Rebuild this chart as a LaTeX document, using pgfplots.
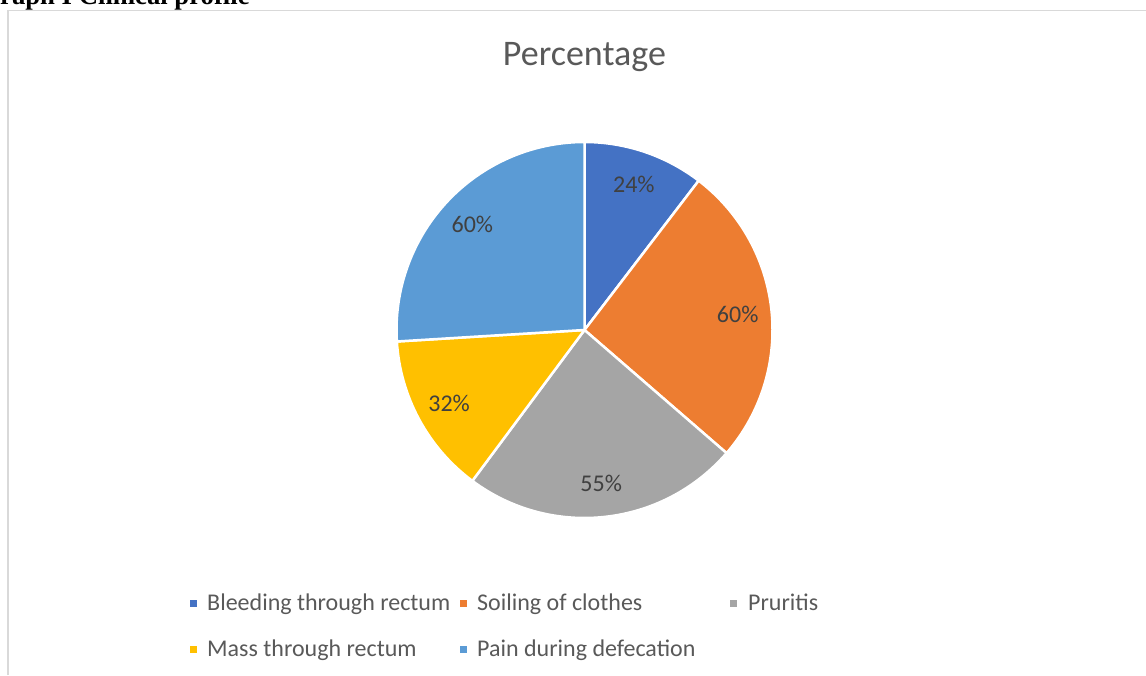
\documentclass[border=0pt]{standalone}
\usepackage{pgfplots}
\pgfplotsset{compat=1.18}
\usepackage{pgfplotstable}
\usepackage{fontspec}
\setmainfont{Carlito}
\newfontfamily\capfont{Liberation Serif}
\definecolor{c0}{HTML}{4472C4}
\definecolor{c1}{HTML}{ED7D31}
\definecolor{c2}{HTML}{A5A5A5}
\definecolor{c3}{HTML}{FFC000}
\definecolor{c4}{HTML}{5B9BD5}
\definecolor{labc}{HTML}{404040}
\definecolor{txtc}{HTML}{595959}
\definecolor{framec}{HTML}{D9D9D9}
\pgfplotstableread{
label value
Bleeding 24
Soiling 60
Pruritis 55
Mass 32
Pain 60
}\piedata
\tikzset{pielab/.style={text=labc,font=\fontsize{24}{28}\selectfont,inner sep=0pt},
 legtxt/.style={text=txtc,font=\fontsize{24}{28}\selectfont,inner sep=0pt,anchor=base west}}
\begin{document}
\begin{tikzpicture}
\begin{axis}[x=1pt,y=1pt,xmin=0,xmax=1146,ymin=0,ymax=675,hide axis,clip=false,
  scale only axis,at={(0,0)},anchor=south west]
\def\pieCum{0}
\pgfplotsforeachungrouped \i in {0,...,4}{%
  \pgfplotstablegetelem{\i}{value}\of\piedata
  \let\pieV\pgfplotsretval
  \pgfmathsetmacro\pieA{90-(360/231)*\pieCum}%
  \pgfmathsetmacro\pieB{90-(360/231)*(\pieCum+\pieV)}%
  \pgfmathsetmacro\pieM{(\pieA+\pieB)/2}%
  \edef\cmd{\noexpand\fill[c\i, draw=white, line width=2.5pt, line join=round]
    (axis cs:584.5,345) -- ++(\pieA:188pt) arc[start angle=\pieA, end angle=\pieB, radius=188pt] -- cycle;
    \noexpand\path (axis cs:584.5,345) ++(\pieM:154pt) node[pielab] {\pieV\noexpand\%};}%
  \cmd
  \pgfmathsetmacro\pieCum{\pieCum+\pieV}%
}
% title
\node[anchor=base,text=txtc,font=\fontsize{36}{40}\selectfont,inner sep=0pt] at (axis cs:584.4,609) {Percentage};
% legend
\fill[c0] (axis cs:190,68) rectangle (axis cs:197,75);
\node[legtxt] at (axis cs:207,64) {Bleeding through rectum};
\fill[c1] (axis cs:460,68) rectangle (axis cs:467,75);
\node[legtxt] at (axis cs:477,64) {Soiling of clothes};
\fill[c2] (axis cs:730,68) rectangle (axis cs:737,75);
\node[legtxt] at (axis cs:748,64) {Pruritis};
\fill[c3] (axis cs:190,22) rectangle (axis cs:197,29);
\node[legtxt] at (axis cs:207,19) {Mass through rectum};
\fill[c4] (axis cs:460,22) rectangle (axis cs:467,29);
\node[legtxt] at (axis cs:477,19) {Pain during defecation};
% frame
\draw[framec,line width=1.5pt] (axis cs:8,0) -- (axis cs:8,664.5) -- (axis cs:1146,664.5);
% caption (cropped)
\node[anchor=base west,inner sep=0pt,font=\capfont\bfseries\fontsize{26.7}{30}\selectfont] at (axis cs:-20.8,670) {Graph I Clinical profile};
\end{axis}
\pgfresetboundingbox
\useasboundingbox (0,0) rectangle (1146pt,675pt);
\end{tikzpicture}
\end{document}
